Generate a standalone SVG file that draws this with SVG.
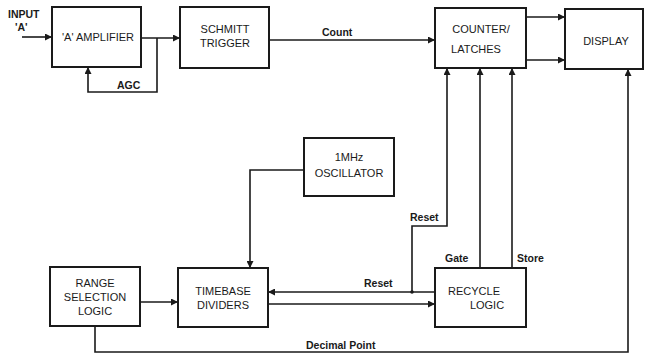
<svg xmlns="http://www.w3.org/2000/svg" width="647" height="356" viewBox="0 0 647 356">
<defs>
<marker id="ah" viewBox="0 0 10 10" refX="10" refY="5" markerWidth="8" markerHeight="7" markerUnits="userSpaceOnUse" orient="auto">
<path d="M0,0 L10,5 L0,10 Z" fill="#1a1a1a"/>
</marker>
</defs>
<style>
.box{fill:#fff;stroke:#1a1a1a;stroke-width:2}
.ln{fill:none;stroke:#1a1a1a;stroke-width:1.6}
.t{font-family:"Liberation Sans",Arial,sans-serif;font-size:11px;fill:#1a1a1a;text-anchor:middle}
.l{font-family:"Liberation Sans",Arial,sans-serif;font-size:10.5px;fill:#1a1a1a;font-weight:bold}
</style>
<rect width="647" height="356" fill="#fff"/>
<g id="connectors">
<path class="ln" d="M22,37 H52" marker-end="url(#ah)"/>
<path class="ln" d="M141,38 H180" marker-end="url(#ah)"/>
<path class="ln" d="M157,38 V92 H88 V67" marker-end="url(#ah)"/>
<path class="ln" d="M269,40 H435" marker-end="url(#ah)"/>
<path class="ln" d="M526,17 H565" marker-end="url(#ah)"/>
<path class="ln" d="M526,60 H565" marker-end="url(#ah)"/>
<path class="ln" d="M304,170 H250 V268" marker-end="url(#ah)"/>
<path class="ln" d="M140,302 H178" marker-end="url(#ah)"/>
<path class="ln" d="M435,292 H268" marker-end="url(#ah)"/>
<path class="ln" d="M268,304 H435" marker-end="url(#ah)"/>
<path class="ln" d="M412,292 V226 H447 V68" marker-end="url(#ah)"/>
<path class="ln" d="M480,268 V68" marker-end="url(#ah)"/>
<path class="ln" d="M512,268 V68" marker-end="url(#ah)"/>
<path class="ln" d="M95,326 V352 H628 V69" marker-end="url(#ah)"/>
<circle cx="412" cy="292" r="1.8" fill="#1a1a1a"/>
<text class="l" x="8" y="18">INPUT</text>
<text class="l" x="15" y="31">'A'</text>
<text class="l" x="117" y="89">AGC</text>
<text class="l" x="322" y="36">Count</text>
<text class="l" x="410" y="221">Reset</text>
<text class="l" x="364" y="287">Reset</text>
<text class="l" x="445" y="262">Gate</text>
<text class="l" x="517" y="262">Store</text>
<text class="l" x="306" y="349">Decimal Point</text>
</g>
<g id="amplifier">
<rect class="box" x="52" y="7" width="89" height="60"/>
<text class="t" x="98" y="41">'A' AMPLIFIER</text>
</g>
<g id="schmitt">
<rect class="box" x="180" y="7" width="89" height="61"/>
<text class="t" x="225" y="33">SCHMITT</text>
<text class="t" x="225" y="47">TRIGGER</text>
</g>
<g id="counter">
<rect class="box" x="435" y="8" width="91" height="60"/>
<text class="t" x="481" y="33">COUNTER/</text>
<text class="t" x="476" y="53">LATCHES</text>
</g>
<g id="display">
<rect class="box" x="565" y="9" width="78" height="60"/>
<text class="t" x="606" y="45">DISPLAY</text>
</g>
<g id="oscillator">
<rect class="box" x="304" y="138" width="90" height="58"/>
<text class="t" x="349" y="161">1MHz</text>
<text class="t" x="349" y="177">OSCILLATOR</text>
</g>
<g id="range">
<rect class="box" x="50" y="267" width="90" height="59"/>
<text class="t" x="95" y="287">RANGE</text>
<text class="t" x="95" y="301">SELECTION</text>
<text class="t" x="95" y="315">LOGIC</text>
</g>
<g id="timebase">
<rect class="box" x="178" y="268" width="90" height="59"/>
<text class="t" x="223" y="295">TIMEBASE</text>
<text class="t" x="223" y="309">DIVIDERS</text>
</g>
<g id="recycle">
<rect class="box" x="435" y="268" width="91" height="59"/>
<text class="t" x="474" y="295">RECYCLE</text>
<text class="t" x="487" y="309">LOGIC</text>
</g>
</svg>
